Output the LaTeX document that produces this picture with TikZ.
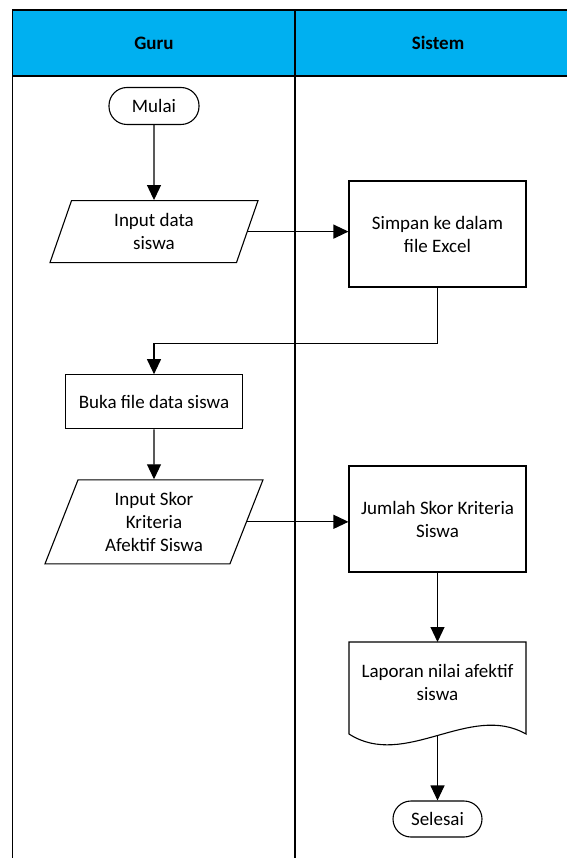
\documentclass[tikz,border=0pt]{standalone}
\usepackage{fontspec}
\setmainfont{Carlito}
\usetikzlibrary{arrows.meta,positioning,shapes.geometric}
\definecolor{laneblue}{HTML}{00B0F0}

\begin{document}
\begin{tikzpicture}[
    x=1pt, y=-1pt,
    font=\fontsize{19}{23}\selectfont,
    node distance=50pt,
    lane/.style={line width=1.2pt},
    box/.style={draw, line width=1.1pt, align=center, minimum width=177pt},
    term/.style={draw, line width=1.1pt, rounded corners=18pt,
        minimum width=90pt, minimum height=37pt},
    io/.style={draw, line width=1.1pt, trapezium, trapezium left angle=63.4,
        trapezium right angle=116.6, trapezium stretches body, align=center},
    arr/.style={-{Triangle[length=15pt,width=14pt]}, line width=1.1pt}
]
\useasboundingbox (0,0) rectangle (566,858);

% swimlanes
\fill[laneblue] (12.7,10) rectangle (570,76);
\draw[lane] (570,10) -- (12.7,10) -- (12.7,862);
\draw[lane] (12.7,76) -- (570,76);
\draw[lane] (295,10) -- (295,862);
\node[font=\fontsize{19}{23}\selectfont\bfseries] (guru)   at (154,43)  {Guru};
\node[font=\fontsize{19}{23}\selectfont\bfseries] (sistem) at (438,43)  {Sistem};

% Guru
\node[term] (mulai) at (154,106) {Mulai};
\node[io, minimum width=208pt, minimum height=62pt, below=75pt of mulai] (inpdata) {Input data\\siswa};
\node[box, minimum height=54pt, below=111pt of inpdata] (buka) {Buka file data siswa};
\node[io, minimum width=218pt, minimum height=84pt, below=of buka] (inpskor) {Input Skor\\Kriteria\\Afektif Siswa};

% Sistem
\node[box, minimum height=106pt] (simpan) at (437.5,234) {Simpan ke dalam\\file Excel};
\node[box, minimum height=106pt] (jumlah) at (437.5,519) {Jumlah Skor Kriteria\\Siswa};
\node[align=center] (lapor) at (437.5,682) {Laporan nilai afektif\\siswa};
\draw[line width=1.1pt] (349,642) -- (526,642) -- (526,734)
    .. controls (470,702) and (405,770) .. (349,734) -- cycle;
\coordinate (laptop) at (437.5,642);
\coordinate (lapbot) at (437.5,735);
\node[term, minimum width=89pt, minimum height=36pt] (selesai) at (437.5,819) {Selesai};

\draw[arr] (mulai) -- (inpdata);
\draw[arr] (inpdata.east) -- (inpdata.east -| simpan.west);
\draw[arr] (simpan.south) -- ++(0,56) -| (buka.north);
\draw[arr] (buka) -- (inpskor);
\draw[arr] (inpskor.east) -- (inpskor.east -| jumlah.west);
\draw[arr] (jumlah.south) -- (laptop);
\draw[arr] (lapbot) -- (selesai);
\end{tikzpicture}
\end{document}
